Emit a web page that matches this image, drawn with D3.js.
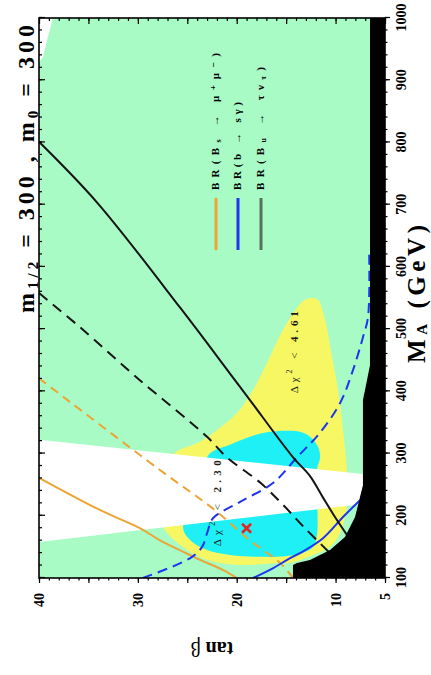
<!DOCTYPE html>
<html>
<head>
<meta charset="utf-8">
<script src="https://cdn.jsdelivr.net/npm/d3@7"></script>
<style>
  html, body { margin: 0; padding: 0; background: #fff; }
  svg { display: block; }
  text { font-family: "Liberation Serif", "DejaVu Serif", serif; }
</style>
</head>
<body>
<script>
// ---- axis ticks ----
const massTicks = [100, 200, 300, 400, 500, 600, 700, 800, 900, 1000];
const tanBetaTicks = [5, 10, 20, 30, 40];

// ---- regions, points are [M_A (GeV), tan beta] ----
const allowedRegion = [[1000, 38.6], [981, 38.9], [957, 39.3], [937, 39.6], [929, 40], [100, 40], [100, 5], [1000, 5]];
const chi2Region461 = [[550, 12.28], [547, 11.78], [515, 11.07], [455, 10.36], [402, 9.75], [338, 9.25], [269, 8.84],
  [217, 8.84], [172, 9.55], [150, 10.56], [137, 12.28], [124, 14.61], [124, 15.62], [121, 19.67], [129, 23.0],
  [150, 25.43], [184, 27.46], [241, 27.25], [298, 26.44], [319, 23.71], [338, 21.99], [365, 19.97], [402, 18.35],
  [446, 16.94], [499, 15.32], [534, 13.90], [547, 13.09]];
const chi2Region230 = [[297, 22.9], [314, 20.68], [327, 18.66], [335, 16.63], [335, 13.60], [327, 12.59], [311, 11.78],
  [294, 11.57], [274, 11.88], [169, 11.88], [150, 12.28], [139, 13.60], [135, 15.12], [134, 17.34], [137, 20.68],
  [145, 23.0], [161, 24.72], [182, 25.43], [235, 23.6]];
const excludedBand = [[322, 40], [267, 7.23], [257, 7.0], [229, 7.0], [219, 7.23], [158, 40]];
const theoryExcluded = [[1000, 6.52], [1000, 5], [100, 5], [100, 14.31], [121, 14.31], [124, 13.90], [129, 12.59],
  [145, 10.56], [166, 9.05], [198, 8.03], [230, 7.53], [249, 7.23], [386, 7.23], [410, 6.92], [442, 6.52]];

// ---- contour lines ----
const bsmumuSolid = [[261, 40], [209, 33.8], [180, 29.8], [161, 27.8], [142, 25.4], [129, 23.7], [113, 21.4], [100, 20.0]];
const bsmumuDashed = [[421, 40], [410, 39.1], [274, 27.8], [209, 22.2], [161, 18.7], [124, 15.6], [100, 14.3]];
const bsgammaDashed = [[100, 29.5], [132, 24.7], [150, 23.5], [172, 23.0], [196, 22.4], [222, 19.7], [253, 16.3],
  [294, 13.9], [333, 11.6], [381, 9.55], [434, 8.24], [487, 7.23], [519, 6.72], [620, 6.6]];
const bsgammaSolid = [[100, 18.35], [116, 16.3], [132, 14.6], [140, 13.6], [164, 11.27], [198, 9.25], [225, 7.53]];
const btaunuSolid = [[801, 40], [703, 34.1], [534, 25.7], [429, 20.7], [386, 18.66], [294, 14.3], [264, 12.6],
  [230, 11.3], [198, 10.06], [169, 8.84]];
const btaunuDashed = [[558, 40], [503, 35.85], [418, 29.8], [327, 23.0], [294, 21.0], [253, 17.6], [214, 15.1],
  [180, 13.1], [140, 10.56]];

// best-fit point
const bestFit = [180, 19.0];

// legend ("_x" marks a one-character subscript)
const legendLabels = ["BR(B_s \u2192 \u03bc\u207a\u03bc\u207b)", "BR(b \u2192 s\u03b3)", "BR(B_u \u2192 \u03c4\u03bd_\u03c4)"];
const legendColors = ["#eaa536", "#2035ee", "#56725f"];

const W = 431, H = 675;
const svg = d3.select("body").append("svg").attr("width", W).attr("height", H);

// The plot is laid out with M_A across and tan beta upward, then turned a quarter turn.
const g = svg.append("g").attr("transform", `translate(0,${H}) rotate(-90)`);

const x = d3.scaleLinear().domain([100, 1000]).range([97, 657]);
const y = d3.scaleLinear().domain([5, 40]).range([385, 39]);

const clip = g.append("clipPath").attr("id", "plotclip");
clip.append("rect").attr("x", x(100)).attr("y", y(40)).attr("width", x(1000) - x(100)).attr("height", y(5) - y(40));

const plot = g.append("g").attr("clip-path", "url(#plotclip)");

const area = d3.line().x(d => x(d[0])).y(d => y(d[1])).curve(d3.curveLinearClosed);
const smoothArea = d3.line().x(d => x(d[0])).y(d => y(d[1])).curve(d3.curveCatmullRomClosed.alpha(0.5));
const curve = d3.line().x(d => x(d[0])).y(d => y(d[1])).curve(d3.curveCatmullRom.alpha(0.5));

plot.append("path").attr("d", area(allowedRegion)).attr("fill", "#a9fbc6");
plot.append("path").attr("d", smoothArea(chi2Region461)).attr("fill", "#f7f764");
plot.append("path").attr("d", smoothArea(chi2Region230)).attr("fill", "#1ff0f5");
plot.append("path").attr("d", area(excludedBand)).attr("fill", "#ffffff");

const lines = [
  { data: bsmumuSolid, color: "#eaa536", dash: null },
  { data: bsmumuDashed, color: "#eaa536", dash: "9,6" },
  { data: bsgammaDashed, color: "#2035ee", dash: "10,6" },
  { data: bsgammaSolid, color: "#2035ee", dash: null },
  { data: btaunuSolid, color: "#151515", dash: null },
  { data: btaunuDashed, color: "#151515", dash: "11,7" }
];
lines.forEach(l => {
  plot.append("path").attr("d", curve(l.data)).attr("fill", "none")
    .attr("stroke", l.color).attr("stroke-width", 2)
    .attr("stroke-dasharray", l.dash);
});

plot.append("path").attr("d", area(theoryExcluded)).attr("fill", "#000");

// best-fit cross
const bx = x(bestFit[0]), by = y(bestFit[1]);
plot.append("path").attr("d", `M${bx - 4.5},${by - 4.5}L${bx + 4.5},${by + 4.5}M${bx - 4.5},${by + 4.5}L${bx + 4.5},${by - 4.5}`)
  .attr("stroke", "#e62424").attr("stroke-width", 2.6).attr("fill", "none");

// chi-square contour labels
function chiLabel(ma, tb, value, len) {
  const t = g.append("text").attr("x", x(ma)).attr("y", y(tb)).attr("text-anchor", "middle")
    .attr("dominant-baseline", "middle").attr("font-size", 11).attr("fill", "#1a1a1a")
    .attr("textLength", len).attr("lengthAdjust", "spacing");
  t.append("tspan").text("\u0394\u03c7");
  t.append("tspan").attr("baseline-shift", "super").attr("font-size", 8).text("2");
  t.append("tspan").text(" < ");
  t.append("tspan").attr("font-weight", "bold").text(value);
}
chiLabel(220, 21.9, "2.30", 86);
chiLabel(463, 14.1, "4.61", 82);

// frame
g.append("rect").attr("x", x(100)).attr("y", y(40)).attr("width", x(1000) - x(100)).attr("height", y(5) - y(40))
  .attr("fill", "none").attr("stroke", "#000").attr("stroke-width", 1.6);

// axes
function styleAxis(sel) {
  sel.select(".domain").remove();
  sel.selectAll("line").attr("stroke", "#000").attr("stroke-width", 1.2);
  sel.selectAll("text").attr("font-size", 14).attr("font-weight", "bold").attr("fill", "#000")
    .attr("font-family", "'Liberation Serif', serif");
}
const minorMass = d3.range(100, 1001, 20);
const majorTan = d3.range(5, 41, 5);
const minorTan = d3.range(5, 41, 1);

// M_A axis (outward) and its mirror (inward)
g.append("g").attr("transform", `translate(0,${y(5)})`)
  .call(d3.axisBottom(x).tickValues(minorMass).tickSize(2.5).tickFormat("")).call(styleAxis);
g.append("g").attr("transform", `translate(0,${y(5)})`)
  .call(d3.axisBottom(x).tickValues(massTicks).tickSize(5).tickPadding(6).tickFormat(d3.format("d"))).call(styleAxis);
g.append("g").attr("transform", `translate(0,${y(40)})`)
  .call(d3.axisTop(x).tickValues(minorMass).tickSize(-3).tickFormat("")).call(styleAxis);
g.append("g").attr("transform", `translate(0,${y(40)})`)
  .call(d3.axisTop(x).tickValues(massTicks).tickSize(-6).tickFormat("")).call(styleAxis);

// tan beta axis (outward) and its mirror (inward)
g.append("g").attr("transform", `translate(${x(100)},0)`)
  .call(d3.axisLeft(y).tickValues(minorTan).tickSize(2.5).tickFormat("")).call(styleAxis);
g.append("g").attr("transform", `translate(${x(100)},0)`)
  .call(d3.axisLeft(y).tickValues(majorTan).tickSize(5).tickFormat("")).call(styleAxis);
g.append("g").attr("transform", `translate(${x(100)},0)`)
  .call(d3.axisLeft(y).tickValues(tanBetaTicks).tickSize(0).tickPadding(15).tickFormat(d3.format("d"))).call(styleAxis);
g.append("g").attr("transform", `translate(${x(1000)},0)`)
  .call(d3.axisRight(y).tickValues(minorTan).tickSize(-3).tickFormat("")).call(styleAxis);
g.append("g").attr("transform", `translate(${x(1000)},0)`)
  .call(d3.axisRight(y).tickValues(majorTan).tickSize(-6).tickFormat("")).call(styleAxis);

// axis titles
const xt = g.append("text").attr("x", 312).attr("y", 425)
  .attr("font-size", 25).attr("font-weight", "bold")
  .attr("textLength", 138).attr("lengthAdjust", "spacing");
xt.append("tspan").text("M");
xt.append("tspan").attr("baseline-shift", "-2").attr("font-size", 15).text("A");
xt.append("tspan").text(" (GeV)");

const yt = g.append("text").attr("transform", "translate(28,212) rotate(-90)").attr("text-anchor", "middle")
  .attr("dominant-baseline", "middle").attr("font-size", 20).attr("font-weight", "bold");
yt.append("tspan").text("tan ");
yt.append("tspan").attr("font-weight", "normal").text("\u03b2");

// title
const title = g.append("text").attr("x", 362).attr("y", 34).attr("font-size", 24).attr("font-weight", "bold")
  .attr("textLength", 288).attr("lengthAdjust", "spacing");
title.append("tspan").text("m");
title.append("tspan").attr("baseline-shift", "-4").attr("font-size", 15).text("1/2");
title.append("tspan").text(" = 300 , m");
title.append("tspan").attr("baseline-shift", "-4").attr("font-size", 15).text("0");
title.append("tspan").text(" = 300");

// legend
const legendY = [216, 238, 261];
const legendLen = [137, 88, 123];
legendLabels.forEach((lab, i) => {
  g.append("line").attr("x1", 425).attr("x2", 477).attr("y1", legendY[i]).attr("y2", legendY[i])
    .attr("stroke", legendColors[i]).attr("stroke-width", 3);
  const t = g.append("text").attr("x", 485).attr("y", legendY[i]).attr("dominant-baseline", "middle")
    .attr("font-size", 11).attr("font-weight", "bold").attr("textLength", legendLen[i]).attr("lengthAdjust", "spacing");
  // split into normal runs and one-character subscripts
  const pieces = lab.split(/_(.)/);
  pieces.forEach((p, k) => {
    if (!p) return;
    if (k % 2 === 1) t.append("tspan").attr("baseline-shift", "-3").attr("font-size", 8).text(p);
    else t.append("tspan").text(p);
  });
});
</script>
</body>
</html>
